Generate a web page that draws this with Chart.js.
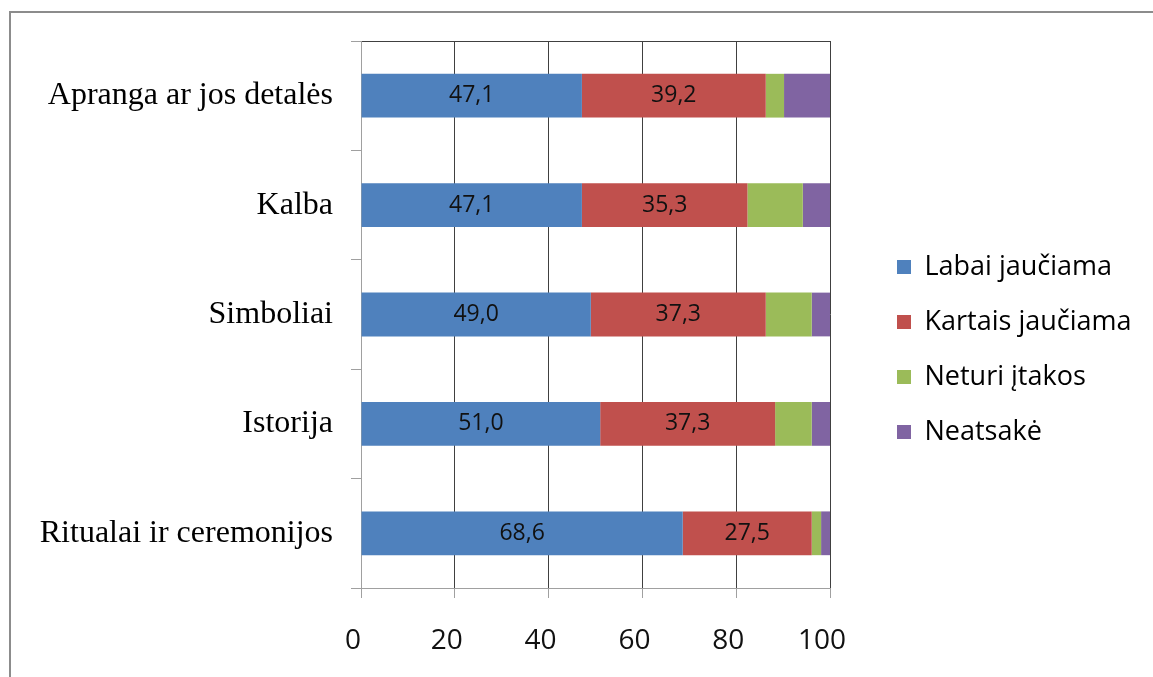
<!DOCTYPE html>
<html>
<head>
<meta charset="utf-8">
<script src="https://cdn.jsdelivr.net/npm/chart.js@4.4.1/dist/chart.umd.min.js"></script>
<style>
  html, body { margin: 0; padding: 0; background: #fff; overflow: hidden; }
  #frame { position: absolute; left: 9px; top: 11px; width: 1200px; height: 700px; border-top: 2px solid #8c8c8c; border-left: 2px solid #8c8c8c; }
  #chart { position: absolute; left: 0; top: 0; }
</style>
</head>
<body>
<div id="frame"></div>
<canvas id="chart" width="1153" height="677"></canvas>
<script>
const categories = ['Apranga ar jos detalės', 'Kalba', 'Simboliai', 'Istorija', 'Ritualai ir ceremonijos'];
const seriesNames = ['Labai jaučiama', 'Kartais jaučiama', 'Neturi įtakos', 'Neatsakė'];
const labaiJauciama = [47.1, 47.1, 49.0, 51.0, 68.6];
const kartaisJauciama = [39.2, 35.3, 37.3, 37.3, 27.5];
const neturiItakos = [3.9, 11.8, 9.8, 7.8, 2.0];
const neatsake = [9.8, 5.9, 3.9, 3.9, 2.0];
const xTicks = [0, 20, 40, 60, 80, 100];
const seriesColors = ['#4F81BD', '#C0504D', '#9BBB59', '#8064A2'];

// value labels inside the first two series
const barLabels = {
    id: 'barLabels',
    afterDatasetsDraw(chart) {
        const ctx = chart.ctx;
        ctx.save();
        ctx.font = '23px "Open Sans"';
        ctx.fillStyle = '#111';
        ctx.textAlign = 'center';
        ctx.textBaseline = 'middle';
        [0, 1].forEach(i => {
            chart.getDatasetMeta(i).data.forEach((bar, j) => {
                const v = chart.data.datasets[i].data[j];
                ctx.fillText(v.toFixed(1).replace('.', ','), (bar.x + bar.base) / 2, bar.y);
            });
        });
        ctx.restore();
    }
};

// push the legend a bit away from the plot
const legendShift = {
    id: 'legendShift',
    afterLayout(chart) {
        chart.legend.left += 39;
        chart.legend.right += 39;
    }
};

const chart = new Chart(document.getElementById('chart'), {
    type: 'bar',
    data: {
        labels: categories,
        datasets: [labaiJauciama, kartaisJauciama, neturiItakos, neatsake].map((d, i) => ({
            label: seriesNames[i],
            data: d,
            backgroundColor: seriesColors[i],
            borderWidth: 0,
            barPercentage: 0.4,
            categoryPercentage: 1.0
        }))
    },
    options: {
        indexAxis: 'y',
        responsive: false,
        animation: false,
        layout: { padding: { left: 0, top: 41, right: 40, bottom: 19 } },
        scales: {
            x: {
                stacked: true,
                min: 0,
                max: 100,
                afterBuildTicks(scale) { scale.ticks = xTicks.map(v => ({ value: v })); },
                afterFit(scale) { scale.height = 70; },
                grid: {
                    color: c => (c.tick && c.tick.value === 0) ? 'rgba(0,0,0,0)' : '#404040',
                    tickColor: '#a0a0a0',
                    tickLength: 10
                },
                border: { color: '#a0a0a0' },
                ticks: { font: { family: 'Open Sans', size: 28 }, color: '#111', padding: 26, maxRotation: 0, labelOffset: -8 }
            },
            y: {
                stacked: true,
                afterFit(scale) { scale.width = 361; },
                grid: {
                    offset: true,
                    color: c => c.index === 0 ? '#404040' : 'rgba(0,0,0,0)',
                    tickColor: '#a0a0a0',
                    tickLength: 10
                },
                border: { color: '#a0a0a0' },
                ticks: { font: { family: 'Liberation Serif', size: 32 }, color: '#000', padding: 18 }
            }
        },
        plugins: {
            legend: {
                position: 'right',
                align: 'center',
                labels: {
                    boxWidth: 14,
                    boxHeight: 14,
                    padding: 28,
                    color: '#000',
                    font: { family: 'Open Sans', size: 27 }
                }
            },
            tooltip: { enabled: false }
        }
    },
    plugins: [legendShift, barLabels]
});

// line the plot's right edge up with the reference
for (let k = 0; k < 3; k++) {
    chart.options.layout.padding.right += chart.chartArea.right - 830;
    chart.update();
}
</script>
</body>
</html>
